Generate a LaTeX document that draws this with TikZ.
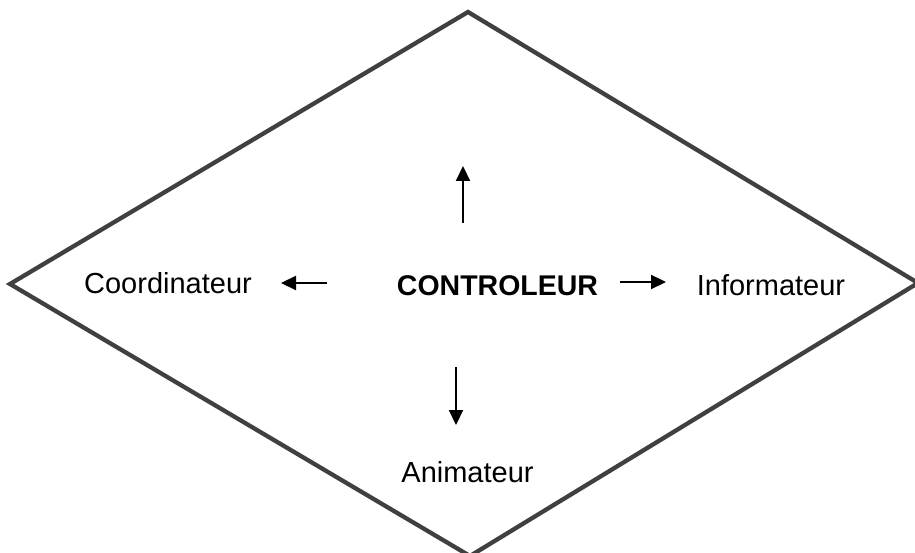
\documentclass[tikz,border=0pt]{standalone}
\usepackage{fontspec}
\setmainfont{Liberation Sans}
\usetikzlibrary{arrows.meta}
\definecolor{framegray}{HTML}{404040}
\begin{document}
\begin{tikzpicture}[x=1pt,y=-1pt,
  role/.style={inner sep=0pt,font=\fontsize{29}{34}\selectfont},
  chief/.style={inner sep=0pt,font=\fontsize{28.5}{34}\selectfont\bfseries},
  flow/.style={line width=2.2pt,-{Triangle[length=15pt,width=14pt]}},
  frame/.style={draw=framegray,line width=4.3pt,line join=miter}]
\useasboundingbox (0,0) rectangle (915,553);
% outer diamond
\coordinate (dT) at (468,12);
\coordinate (dL) at (10,284);
\coordinate (dR) at (918,283);
\coordinate (dB) at (470,556);
\draw[frame] (dT) -- (dR) -- (dB) -- (dL) -- cycle;
% labels
\node[chief,anchor=base] (ctrl) at (497.5,295) {CONTROLEUR};
\node[role,anchor=base] (coord) at (168,293) {Coordinateur};
\node[role,anchor=base] (info) at (771,295) {Informateur};
\node[role,anchor=base] (anim) at (467.5,482) {Animateur};
% arrows
\coordinate (uT) at (463,223); \coordinate (uH) at (463,166);
\coordinate (lT) at (327,283); \coordinate (lH) at (281,283);
\coordinate (rT) at (620,282); \coordinate (rH) at (666,282);
\coordinate (dnT) at (456,367); \coordinate (dnH) at (456,425);
\draw[flow] (uT) -- (uH);
\draw[flow] (lT) -- (lH);
\draw[flow] (rT) -- (rH);
\draw[flow] (dnT) -- (dnH);
\end{tikzpicture}
\end{document}
